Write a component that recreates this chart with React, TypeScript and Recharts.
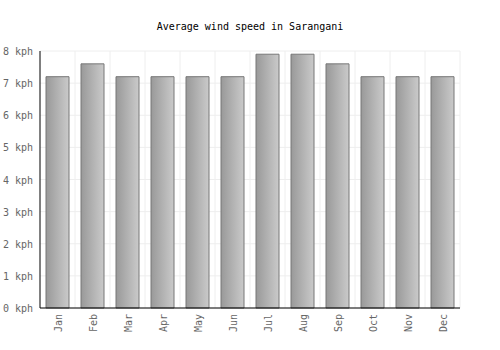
import { Bar, BarChart, CartesianGrid, XAxis, YAxis } from 'recharts';

const months = ['Jan', 'Feb', 'Mar', 'Apr', 'May', 'Jun', 'Jul', 'Aug', 'Sep', 'Oct', 'Nov', 'Dec'];
const windSpeed = [7.2, 7.6, 7.2, 7.2, 7.2, 7.2, 7.9, 7.9, 7.6, 7.2, 7.2, 7.2];
const yTicks = [0, 1, 2, 3, 4, 5, 6, 7, 8];

const data = months.map((m, i) => ({ month: m, speed: windSpeed[i] }));

const FONT = '"DejaVu Sans Mono", monospace';

const MonthTick = ({ x, y, payload }: any) => (
  <text
    x={0}
    y={0}
    transform={`translate(${x + 4},${y - 2}) rotate(-90)`}
    textAnchor="end"
    fontSize={10}
    fontFamily={FONT}
    fill="#666"
  >
    {payload.value}
  </text>
);

const KphTick = ({ x, y, payload }: any) => (
  <text x={x + 1} y={y + 4} textAnchor="end" fontSize={10} fontFamily={FONT} fill="#666">
    {`${payload.value} kph`}
  </text>
);

export default function App() {
  return (
    <div style={{ position: 'absolute', left: 0, top: 0, background: '#fff' }}>
      <BarChart
        width={500}
        height={350}
        data={data}
        margin={{ top: 51, right: 40, left: 0, bottom: 0 }}
        barSize={23}
      >
        <defs>
          <linearGradient id="barFill" x1="0" y1="0" x2="1" y2="0">
            <stop offset="0%" stopColor="#999999" />
            <stop offset="100%" stopColor="#cacaca" />
          </linearGradient>
        </defs>
        <text x={250} y={30} textAnchor="middle" fontSize={10} fontFamily={FONT} fill="#000">
          Average wind speed in Sarangani
        </text>
        <CartesianGrid
          stroke="#eeeeee"
          verticalCoordinatesGenerator={({ offset }: any) =>
            months.map((_, i) => offset.left + ((i + 1) * offset.width) / months.length)
          }
        />
        <XAxis
          dataKey="month"
          height={42}
          tickLine={false}
          axisLine={{ stroke: '#000', strokeWidth: 1 }}
          tick={<MonthTick />}
          interval={0}
        />
        <YAxis
          width={40}
          domain={[0, 8]}
          ticks={yTicks}
          tickLine={false}
          axisLine={{ stroke: '#000', strokeWidth: 1 }}
          tick={<KphTick />}
        />
        <Bar dataKey="speed" fill="url(#barFill)" stroke="#777" strokeWidth={1} isAnimationActive={false} />
      </BarChart>
    </div>
  );
}
